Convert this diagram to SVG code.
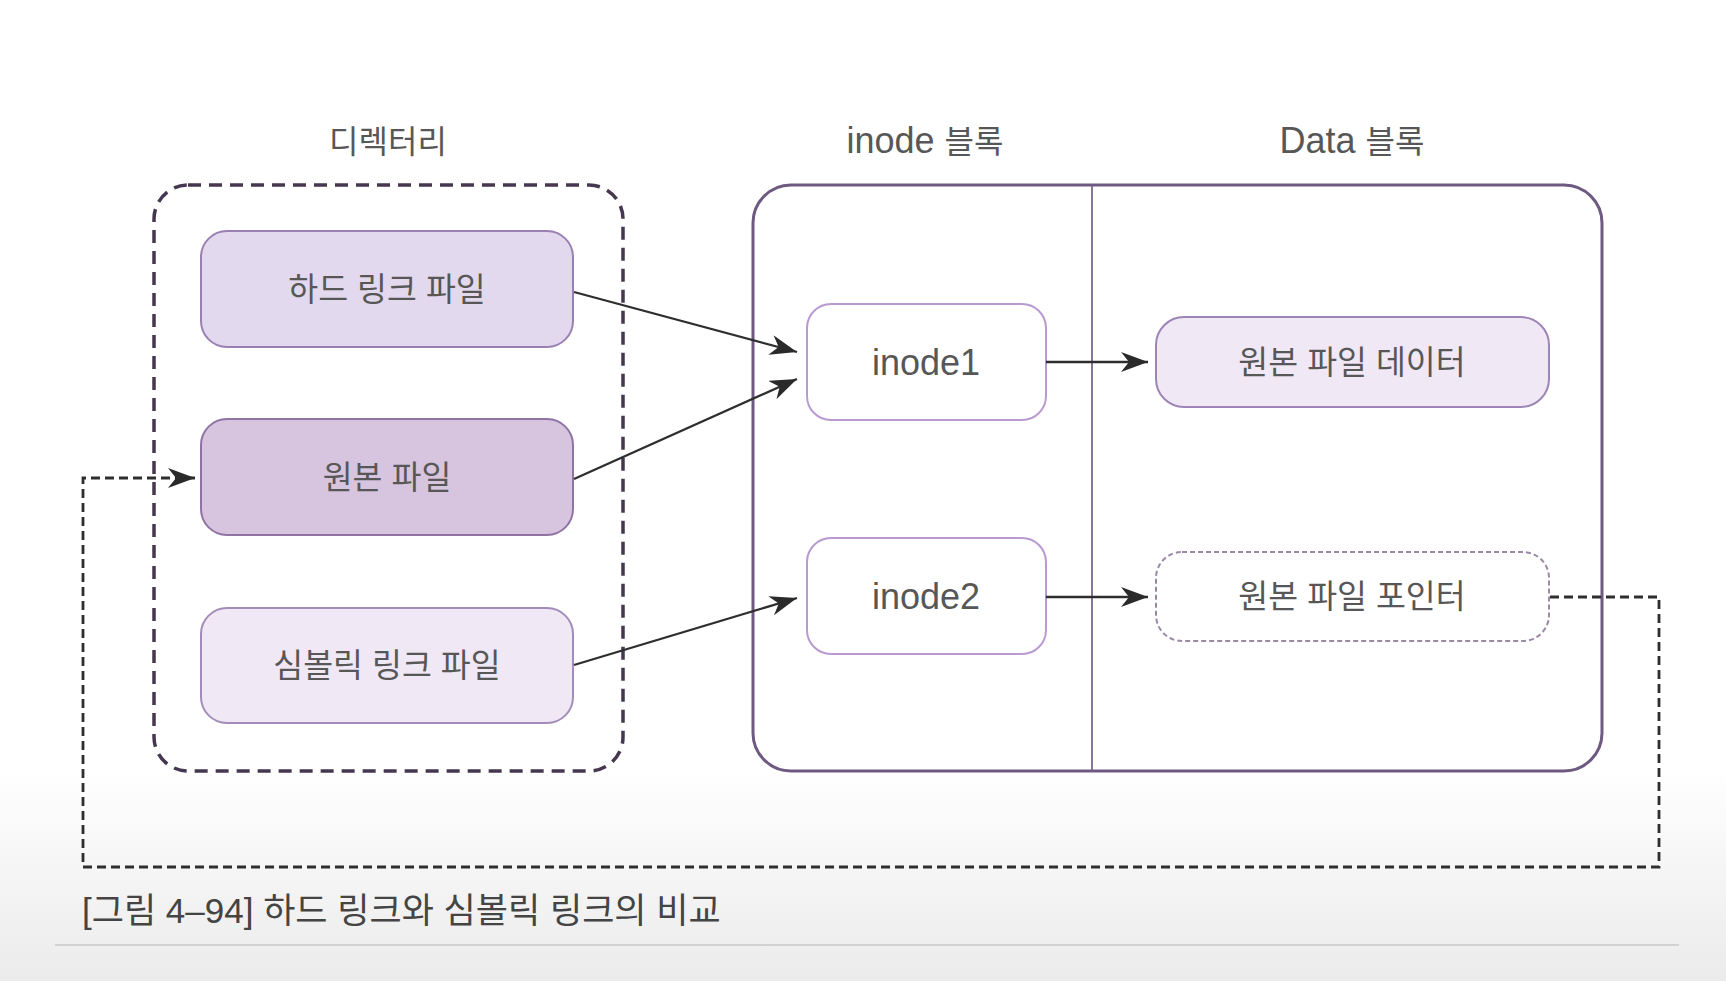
<svg xmlns="http://www.w3.org/2000/svg" width="1726" height="981" viewBox="0 0 1726 981">
  <defs>
    <linearGradient id="bg" x1="0" y1="0" x2="0" y2="1">
      <stop offset="0" stop-color="#ffffff"/>
      <stop offset="1" stop-color="#ebebeb"/>
    </linearGradient>
    <marker id="arr" markerUnits="userSpaceOnUse" markerWidth="30" markerHeight="22" refX="27" refY="10" orient="auto">
      <path d="M0,0 L27,10 L0,20 L8,10 z" fill="#2a2a2a"/>
    </marker>
    <style>
      text { font-family: "Liberation Sans", "Noto Sans CJK KR", sans-serif; fill: #575757; text-anchor: middle; }
      .title { font-size: 32px; }
      .lat { font-size: 36px; }
      .label { font-size: 32.5px; }
      .latin { font-size: 36px; }
      .caption { font-size: 35px; fill: #444444; text-anchor: start; }
      .conn { stroke: #2e2e2e; stroke-width: 2.3; fill: none; }
      .dash { stroke: #2e2e2e; stroke-width: 2.8; fill: none; stroke-dasharray: 9 5; }
    </style>
  </defs>

  <rect x="0" y="0" width="1726" height="981" fill="#ffffff"/>
  <rect x="0" y="770" width="1726" height="211" fill="url(#bg)"/>
  <line x1="55" y1="945" x2="1679" y2="945" stroke="#d2d2d2" stroke-width="2"/>

  <g id="titles">
    <text class="title" x="388" y="153">디렉터리</text>
    <text class="title" x="925" y="153"><tspan class="lat">inode </tspan>블록</text>
    <text class="title" x="1352" y="153"><tspan class="lat">Data </tspan>블록</text>
  </g>

  <g id="directory">
    <rect x="154" y="185" width="469" height="586" rx="34" fill="none" stroke="#45374f" stroke-width="3.5" stroke-dasharray="13 8"/>
  </g>

  <g id="hardlink">
    <rect x="201" y="231" width="372" height="116" rx="26" fill="#e3d9ee" stroke="#9a80b2" stroke-width="2"/>
    <text class="label" x="387" y="301">하드 링크 파일</text>
  </g>

  <g id="original">
    <rect x="201" y="419" width="372" height="116" rx="26" fill="#d7c5e0" stroke="#8f73a3" stroke-width="2"/>
    <text class="label" x="387" y="489">원본 파일</text>
  </g>

  <g id="symlink">
    <rect x="201" y="608" width="372" height="115" rx="26" fill="#f0e8f5" stroke="#a48cba" stroke-width="2"/>
    <text class="label" x="387" y="677">심볼릭 링크 파일</text>
  </g>

  <g id="storage">
    <rect x="753" y="185" width="849" height="586" rx="38" fill="none" stroke="#6e5a80" stroke-width="3"/>
    <line x1="1092" y1="186" x2="1092" y2="770" stroke="#7a6890" stroke-width="1.8"/>
  </g>

  <g id="inode1">
    <rect x="807" y="304" width="239" height="116" rx="24" fill="#ffffff" stroke="#b99ad0" stroke-width="2"/>
    <text class="latin" x="926" y="375">inode1</text>
  </g>

  <g id="inode2">
    <rect x="807" y="538" width="239" height="116" rx="24" fill="#ffffff" stroke="#b99ad0" stroke-width="2"/>
    <text class="latin" x="926" y="609">inode2</text>
  </g>

  <g id="data">
    <rect x="1156" y="317" width="393" height="90" rx="28" fill="#f1e8f6" stroke="#9d86b6" stroke-width="2"/>
    <text class="label" x="1352" y="374">원본 파일 데이터</text>
  </g>

  <g id="pointer">
    <rect x="1156" y="552" width="393" height="89" rx="26" fill="#ffffff" stroke="#9a8aa8" stroke-width="2" stroke-dasharray="5 3"/>
    <text class="label" x="1352" y="608">원본 파일 포인터</text>
  </g>

  <g id="connectors">
    <line class="conn" x1="574" y1="292" x2="797" y2="352" marker-end="url(#arr)"/>
    <line class="conn" x1="574" y1="479" x2="797" y2="379" marker-end="url(#arr)"/>
    <line class="conn" x1="574" y1="665" x2="797" y2="598" marker-end="url(#arr)"/>
    <line class="conn" x1="1046" y1="362" x2="1148" y2="362" marker-end="url(#arr)"/>
    <line class="conn" x1="1046" y1="597" x2="1148" y2="597" marker-end="url(#arr)"/>
    <polyline class="dash" points="1550,597 1659,597 1659,867 83,867 83,478 195,478" marker-end="url(#arr)"/>
  </g>

  <g id="caption">
    <text class="caption" x="82" y="923">[그림 4–94] 하드 링크와 심볼릭 링크의 비교</text>
  </g>
</svg>
